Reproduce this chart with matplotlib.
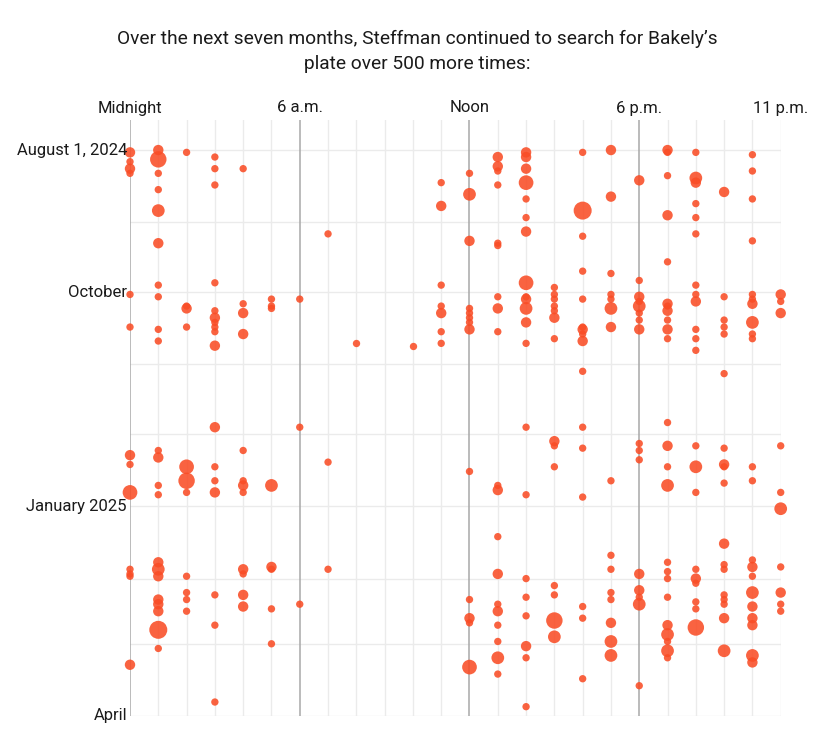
import numpy as np
import pandas as pd
import matplotlib
matplotlib.use('Agg')
import matplotlib.dates as mdates
from matplotlib import pyplot as plt
from matplotlib.transforms import blended_transform_factory, offset_copy

plt.rcParams['font.family'] = ['Roboto', 'DejaVu Sans']

# searches per (date, hour of day)
h00 = [("2024-08-02", 2), ("2024-08-06", 1), ("2024-08-09", 2), ("2024-08-11", 1), ("2024-10-02", 1), ("2024-10-16", 1),
       ("2024-12-10", 2), ("2024-12-14", 1), ("2024-12-26", 4), ("2025-01-28", 1), ("2025-01-30", 1), ("2025-01-31", 1),
       ("2025-03-10", 2)]
h01 = [("2024-08-01", 2), ("2024-08-05", 5), ("2024-08-11", 1), ("2024-08-18", 1), ("2024-08-27", 3), ("2024-09-10", 2),
       ("2024-09-28", 1), ("2024-10-03", 1), ("2024-10-17", 1), ("2024-10-22", 1), ("2024-12-08", 1), ("2024-12-11", 2),
       ("2024-12-23", 1), ("2024-12-27", 1), ("2025-01-25", 2), ("2025-01-28", 3), ("2025-01-31", 2), ("2025-02-10", 2),
       ("2025-02-12", 2), ("2025-02-15", 2), ("2025-02-23", 6), ("2025-03-03", 1)]
h02 = [("2024-08-02", 1), ("2024-10-07", 1), ("2024-10-08", 2), ("2024-10-16", 1), ("2024-12-15", 4), ("2024-12-21", 5),
       ("2024-12-26", 1), ("2025-01-31", 1), ("2025-02-07", 1), ("2025-02-10", 1), ("2025-02-15", 1)]
h03 = [("2024-08-04", 1), ("2024-08-09", 1), ("2024-08-16", 1), ("2024-09-27", 1), ("2024-10-09", 1), ("2024-10-12", 2),
       ("2024-10-14", 1), ("2024-10-16", 1), ("2024-10-18", 1), ("2024-10-24", 2), ("2024-11-28", 2), ("2024-12-15", 1),
       ("2024-12-21", 1), ("2024-12-26", 2), ("2025-02-08", 1), ("2025-02-21", 1), ("2025-03-26", 1)]
h04 = [("2024-08-09", 1), ("2024-10-06", 1), ("2024-10-10", 2), ("2024-10-19", 2), ("2024-12-08", 1), ("2024-12-21", 1),
       ("2024-12-23", 2), ("2024-12-26", 1), ("2025-01-28", 2), ("2025-01-30", 1), ("2025-02-08", 2), ("2025-02-13", 2)]
h05 = [("2024-10-04", 1), ("2024-10-07", 1), ("2024-10-08", 1), ("2024-12-23", 3), ("2025-01-27", 2), ("2025-01-28", 1),
       ("2025-02-14", 1), ("2025-03-01", 1)]
h06 = [("2024-10-04", 1), ("2024-11-28", 1), ("2025-02-12", 1)]
h07 = [("2024-09-06", 1), ("2024-12-13", 1), ("2025-01-28", 1)]
h08 = [("2024-10-23", 1)]
h09 = []
h10 = [("2024-10-24", 1)]
h11 = [("2024-08-15", 1), ("2024-08-25", 2), ("2024-09-28", 1), ("2024-10-07", 1), ("2024-10-10", 2), ("2024-10-18", 1),
       ("2024-10-23", 1)]
h12 = [("2024-08-11", 1), ("2024-08-20", 3), ("2024-09-09", 2), ("2024-10-08", 1), ("2024-10-10", 1), ("2024-10-12", 1),
       ("2024-10-14", 1), ("2024-10-17", 2), ("2024-12-17", 1), ("2025-02-10", 1), ("2025-02-18", 2), ("2025-02-20", 1),
       ("2025-03-11", 4)]
h13 = [("2024-08-04", 2), ("2024-08-08", 2), ("2024-08-10", 1), ("2024-08-16", 1), ("2024-09-10", 1), ("2024-09-11", 1),
       ("2024-10-03", 1), ("2024-10-08", 2), ("2024-10-18", 1), ("2024-12-23", 1), ("2024-12-25", 2), ("2025-01-14", 1),
       ("2025-01-30", 2), ("2025-02-12", 1), ("2025-02-15", 2), ("2025-02-21", 1), ("2025-02-28", 1), ("2025-03-07", 3),
       ("2025-03-14", 1)]
h14 = [("2024-08-02", 2), ("2024-08-04", 2), ("2024-08-09", 2), ("2024-08-15", 4), ("2024-08-22", 1), ("2024-08-30", 1),
       ("2024-09-05", 2), ("2024-09-27", 4), ("2024-10-03", 1), ("2024-10-04", 2), ("2024-10-08", 3), ("2024-10-14", 2),
       ("2024-10-23", 1), ("2024-11-28", 1), ("2024-12-27", 1), ("2025-02-01", 1), ("2025-02-09", 1), ("2025-02-17", 1),
       ("2025-03-02", 2), ("2025-03-07", 1), ("2025-03-28", 1)]
h15 = [("2024-09-29", 1), ("2024-10-02", 1), ("2024-10-04", 1), ("2024-10-07", 1), ("2024-10-09", 1), ("2024-10-12", 2),
       ("2024-10-21", 1), ("2024-12-04", 2), ("2024-12-06", 1), ("2024-12-15", 1), ("2025-02-04", 1), ("2025-02-08", 1),
       ("2025-02-19", 5), ("2025-02-26", 3)]
h16 = [("2024-08-02", 1), ("2024-08-27", 6), ("2024-09-07", 1), ("2024-09-22", 1), ("2024-10-04", 1), ("2024-10-16", 1),
       ("2024-10-17", 2), ("2024-10-19", 1), ("2024-10-22", 2), ("2024-11-04", 1), ("2024-11-28", 1), ("2024-12-07", 1),
       ("2024-12-28", 1), ("2025-02-13", 1), ("2025-02-18", 1), ("2025-03-16", 1)]
h17 = [("2024-08-01", 2), ("2024-08-21", 2), ("2024-09-23", 1), ("2024-10-02", 1), ("2024-10-04", 1), ("2024-10-08", 3),
       ("2024-10-16", 2), ("2024-12-21", 1), ("2025-01-22", 1), ("2025-01-28", 1), ("2025-02-07", 1), ("2025-02-10", 1),
       ("2025-02-20", 2), ("2025-02-28", 3), ("2025-03-06", 3)]
h18 = [("2024-08-14", 2), ("2024-09-26", 1), ("2024-10-03", 2), ("2024-10-05", 1), ("2024-10-07", 3), ("2024-10-10", 1),
       ("2024-10-13", 1), ("2024-10-17", 2), ("2024-12-05", 1), ("2024-12-08", 1), ("2024-12-12", 1), ("2025-01-30", 2),
       ("2025-02-06", 2), ("2025-02-09", 1), ("2025-02-12", 3), ("2025-03-19", 1)]
h19 = [("2024-08-01", 2), ("2024-08-02", 1), ("2024-08-12", 1), ("2024-08-29", 2), ("2024-09-18", 1), ("2024-10-06", 2),
       ("2024-10-07", 1), ("2024-10-09", 2), ("2024-10-13", 1), ("2024-10-17", 2), ("2024-10-21", 1), ("2024-11-26", 1),
       ("2024-12-06", 2), ("2024-12-15", 1), ("2024-12-23", 3), ("2025-01-25", 1), ("2025-01-29", 1), ("2025-02-01", 1),
       ("2025-02-09", 1), ("2025-02-21", 2), ("2025-02-25", 3), ("2025-02-28", 1), ("2025-03-04", 3), ("2025-03-07", 1)]
h20 = [("2024-08-02", 1), ("2024-08-13", 3), ("2024-08-15", 2), ("2024-08-24", 1), ("2024-08-30", 1), ("2024-09-06", 1),
       ("2024-09-28", 1), ("2024-10-02", 1), ("2024-10-05", 2), ("2024-10-17", 1), ("2024-10-21", 1), ("2024-10-26", 1),
       ("2024-12-06", 1), ("2024-12-15", 3), ("2024-12-26", 1), ("2025-01-28", 1), ("2025-02-01", 2), ("2025-02-03", 1),
       ("2025-02-11", 1), ("2025-02-14", 1), ("2025-02-22", 5)]
h21 = [("2024-08-19", 2), ("2024-10-03", 1), ("2024-10-13", 1), ("2024-10-16", 1), ("2024-10-19", 1), ("2024-11-05", 1),
       ("2024-12-07", 1), ("2024-12-14", 2), ("2024-12-15", 1), ("2024-12-22", 1), ("2025-01-17", 2), ("2025-01-26", 1),
       ("2025-01-28", 1), ("2025-02-08", 1), ("2025-02-10", 1), ("2025-02-12", 1), ("2025-02-18", 2), ("2025-03-04", 3)]
h22 = [("2024-08-03", 1), ("2024-08-10", 1), ("2024-08-22", 1), ("2024-09-09", 1), ("2024-10-02", 1), ("2024-10-04", 1),
       ("2024-10-06", 2), ("2024-10-14", 3), ("2024-10-19", 1), ("2024-10-21", 1), ("2024-12-15", 1), ("2024-12-21", 1),
       ("2025-01-24", 1), ("2025-01-27", 2), ("2025-01-31", 1), ("2025-02-07", 3), ("2025-02-13", 2), ("2025-02-18", 2),
       ("2025-02-21", 2), ("2025-03-06", 3), ("2025-03-09", 2)]
h23 = [("2024-10-02", 2), ("2024-10-05", 1), ("2024-10-10", 2), ("2024-12-06", 1), ("2024-12-26", 1), ("2025-01-02", 3),
       ("2025-01-27", 1), ("2025-02-07", 2), ("2025-02-12", 1), ("2025-02-15", 1)]

columns = [h00, h01, h02, h03, h04, h05, h06, h07, h08, h09, h10, h11,
           h12, h13, h14, h15, h16, h17, h18, h19, h20, h21, h22, h23]

hour_labels = {0: "Midnight", 6: "6 a.m.", 12: "Noon", 18: "6 p.m.", 23: "11 p.m."}
date_labels = [("2024-08-01", "August 1, 2024"), ("2024-10-01", "October"),
               ("2025-01-01", "January 2025"), ("2025-04-01", "April")]
month_starts = pd.date_range("2024-08-01", "2025-04-01", freq="MS")

title = "Over the next seven months, Steffman continued to search for Bakely\u2019s\nplate over 500 more times:"

dot_color = '#f94d26'

fig = plt.figure(figsize=(8.35, 7.34), dpi=100)
ax = fig.add_axes([130/835, 1 - 716/734, 650.7/835, 596/734])

start = mdates.date2num(pd.Timestamp("2024-08-01"))
end = mdates.date2num(pd.Timestamp("2025-04-01"))
ax.set_xlim(0, 23)
ax.set_ylim(end, start - 12.9)

# grid
for h in range(24):
    major = h % 6 == 0
    ax.axvline(h, color='#a8a8a8' if major else '#ebebeb', lw=1.1 if major else 1.0, zorder=1)
for m in month_starts:
    ax.plot([0, 23], [mdates.date2num(m)] * 2, color='#ebebeb', lw=1.0, zorder=0.5)

# dots
for h, col in enumerate(columns):
    if not col:
        continue
    ys = mdates.date2num(pd.to_datetime([d for d, _ in col]))
    counts = np.array([c for _, c in col])
    ax.scatter(np.full(len(col), h), ys, s=28 * counts, color=dot_color, alpha=0.88,
               linewidths=0, zorder=3, clip_on=False)

for s in ax.spines.values():
    s.set_visible(False)
ax.set_xticks([])
ax.set_yticks([])

# labels
trans_top = blended_transform_factory(ax.transData, ax.transAxes)
for h, lab in hour_labels.items():
    ax.text(h, 1 + 12/596, lab, transform=trans_top, ha='center', va='center', fontsize=12, color='#1a1a1a')

lab_trans = offset_copy(ax.transData, fig=fig, x=-3, y=0, units='dots')
for d, lab in date_labels:
    ax.text(0, mdates.date2num(pd.Timestamp(d)), lab, transform=lab_trans, ha='right', va='center',
            fontsize=12, color='#1a1a1a')

fig.text(417.5/835, 1 - 51.5/734, title, ha='center', va='center', fontsize=13.8, color='#1a1a1a', linespacing=1.45)

fig.savefig('out.png', dpi=100)
